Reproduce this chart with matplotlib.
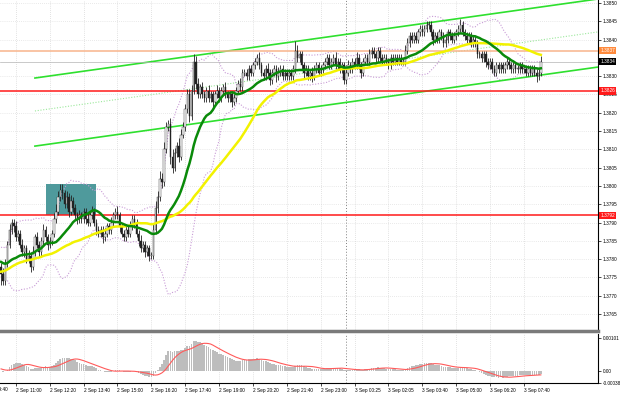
import numpy as np
import pandas as pd
import matplotlib
matplotlib.use("Agg")
import matplotlib.pyplot as plt
from matplotlib.patches import Rectangle

# prices are kept in pips above 1.3700 (85 -> 1.3785)
BASE = 1.37

# bars just left of the visible window, only used to warm up the indicators
warmup_closes = [68, 69, 68, 70, 71, 70, 72, 71, 73, 72, 74, 73, 72, 74, 75, 74, 76, 75, 77, 76,
                 75, 77, 78, 77, 79, 78, 80, 79, 81, 80, 79, 81, 82, 80, 79, 81, 83, 82, 80, 78,
                 79, 81, 80, 78, 77, 79, 78, 76, 77, 78]

# M5 closes, 2 Sep ~10:25 .. 3 Sep ~08:15
closes = [
    76, 74, 79, 84, 88, 90, 89, 86, 87, 84, 82, 83, 80, 81, 78, 82,
    86, 84, 82, 85, 88, 86, 84, 85, 87, 91, 93, 97, 99, 98, 95, 97,
    93, 96, 94, 92, 91, 92, 91, 93, 91, 90, 92, 93, 90, 88, 87, 88,
    86, 87, 89, 88, 90, 92, 93, 92, 89, 87, 86, 88, 87, 89, 91, 90,
    87, 85, 83, 84, 82, 83, 81, 81, 88, 94, 97, 102, 101, 110, 116, 117,
    108, 105, 109, 111, 108, 114, 116, 121, 125, 119, 126, 134, 128, 125, 127, 125,
    124, 126, 124, 125, 123, 125, 126, 124, 126, 127, 125, 124, 125, 123, 124, 126,
    128, 127, 131, 131, 130, 132, 131, 133, 134, 135, 133, 131, 130, 132, 131, 129,
    131, 132, 130, 131, 132, 130, 131, 130, 131, 130, 132, 137, 135, 136, 133, 131,
    132, 130, 131, 130, 132, 133, 131, 132, 133, 134, 135, 133, 134, 135, 133, 134,
    132, 133, 129, 131, 133, 132, 134, 133, 135, 133, 131, 134, 135, 134, 136, 137,
    136, 135, 137, 135, 134, 135, 134, 133, 135, 134, 135, 134, 135, 134, 134, 137,
    139, 141, 140, 141, 140, 142, 143, 142, 143, 144, 144, 142, 140, 141, 140, 142,
    141, 139, 140, 142, 141, 140, 141, 142, 143, 144, 142, 141, 140, 141, 139, 140,
    139, 136, 136, 135, 136, 134, 133, 134, 132, 131, 133, 132, 133, 132, 133, 134,
    133, 132, 133, 132, 132, 133, 132, 132, 131, 132, 131, 132, 131, 130, 131, 134,
]

up_wick = [
    1, 1.5, 1, 1, 1.5, 1, 1, 1.5, 1, 1, 1.5, 1, 1, 1.5, 1, 1.5,
    1, 1.5, 1, 1, 1.5, 1, 1, 1, 1, 1.5, 2, 1.5, 1.5, 1.5, 1, 1.5,
    1, 1.5, 1, 1, 1, 1.5, 1, 1, 1, 1.5, 1, 1.5, 1, 1, 1, 1,
    1, 1.5, 1, 1, 1.5, 1, 1, 1.5, 1, 1, 1, 1.5, 1, 1.5, 1, 1,
    1, 1, 1.5, 1, 1, 1, 1, 1, 1.5, 2, 1.5, 2, 1.5, 2, 1.5, 1,
    1.5, 2, 1.5, 1, 2, 1.5, 1.5, 1.5, 1.5, 1.5, 1.5, 2, 1.5, 1.5, 1, 1.5,
    1, 1, 1.5, 1, 1, 1, 1.5, 1, 1, 1, 1.5, 1, 1, 1, 1, 1,
    1, 1.5, 1, 1, 1, 1, 1, 1, 1, 1, 1.5, 1, 1, 1, 1.5, 1,
    1, 1, 1, 1.5, 1, 1, 1, 1, 1, 1, 1, 2.5, 1.5, 1, 1, 1,
    1, 1, 1, 1.5, 1, 1, 1, 1, 1, 1, 1, 1, 1, 1, 1.5, 1,
    1, 1, 1, 1, 1.5, 1, 1, 1, 1.5, 1, 1, 1, 1, 1, 1.5, 1,
    1, 1, 1, 1, 1, 1, 1, 1, 1, 1, 1, 1, 1, 1, 1, 1.5,
    1.5, 1, 1, 1, 1, 1, 1, 1, 1, 1, 1, 1, 1, 1, 1, 1,
    1, 1, 1, 1, 1, 1, 1, 1, 1, 1.5, 1, 1, 1, 1, 1, 1,
    1, 1, 1, 1, 1, 1, 1, 1, 1, 1, 1, 1, 1, 1, 1, 1,
    1, 1, 1, 1, 1, 1, 1, 1, 1, 1, 1, 1, 1, 1, 1, 1.5,
]

down_wick = [
    3, 1, 1, 1, 1, 1, 1.5, 1, 1, 1, 1, 1.5, 1, 1, 1.5, 1,
    1, 1, 1.5, 1, 1, 1, 1.5, 1, 1, 1, 1, 1, 1, 1.5, 1, 1,
    1.5, 1, 1, 1, 1.5, 1, 1, 1, 1.5, 1, 1, 1, 1, 1.5, 1, 1,
    1.5, 1, 1, 1, 1, 1, 1, 1, 1.5, 1, 1, 1, 1, 1, 1, 1.5,
    1, 1.5, 1, 1, 1.5, 1, 1.5, 1, 1, 1, 1.5, 1, 1.5, 1, 1, 1,
    2, 1.5, 1, 1, 1.5, 1, 1, 1, 1, 1.5, 1, 1, 1.5, 1, 1, 1,
    1, 1, 1, 1, 1.5, 1, 1, 1, 1, 1, 1, 1, 1, 1.5, 1, 1,
    1, 1, 1, 1, 1, 1, 1, 1, 1, 1, 1, 1, 1, 1, 1, 1.5,
    1, 1, 1.5, 1, 1, 1, 1, 1, 1, 1, 1, 1, 1, 1, 1, 1.5,
    1, 1, 1, 1.5, 1, 1, 1, 1, 1, 1, 1, 1, 1, 1, 1, 1,
    1, 1, 1, 1, 1, 1, 1, 1, 1, 1, 1.5, 1, 1, 1, 1, 1,
    1, 1, 1, 1, 1, 1, 1, 1, 1, 1, 1, 1, 1, 1, 1, 1,
    1, 1, 1, 1, 1, 1, 1, 1, 1, 1, 1, 1, 1.5, 1, 1, 1,
    1, 1, 1, 1, 1, 1, 1, 1, 1, 1, 1, 1, 1, 1, 1, 1,
    1, 1, 1, 1, 1, 1.5, 1, 1, 1, 1, 1, 1, 1, 1, 1, 1,
    1, 1, 1, 1, 1, 1, 1, 1, 1, 1, 1, 1, 1, 1.5, 1, 1,
]

# the 09:40 label sits left of the first visible bar
first_label_bar = -9
first_label = "2 Sep 09:40"
tick_bars = [7, 23, 39, 55, 71, 87, 103, 119, 135, 151, 167, 183, 199, 215, 231, 247]
tick_labels = ["2 Sep 11:00", "2 Sep 12:20", "2 Sep 13:40", "2 Sep 15:00",
               "2 Sep 16:20", "2 Sep 17:40", "2 Sep 19:00", "2 Sep 20:20", "2 Sep 21:40",
               "2 Sep 23:00", "3 Sep 00:25", "3 Sep 02:05", "3 Sep 03:40", "3 Sep 05:00",
               "3 Sep 06:20", "3 Sep 07:40"]
price_ticks = [1.3850, 1.3845, 1.3840, 1.3830, 1.3825, 1.3820, 1.3815, 1.3810, 1.3805, 1.3800,
               1.3795, 1.3790, 1.3785, 1.3780, 1.3775, 1.3770, 1.3765]

red_levels = [1.3826, 1.3792]
orange_level = 1.3837
bid = 1.3834
day_break = 163
box_bars = [21, 45]
box_prices = [1.3792, 1.38005]
channel_bars = [16, 282]
channel_upper = [1.38295, 1.38511]
channel_mid = [1.38205, 1.38421]
channel_lower = [1.38109, 1.38325]

# ---------------------------------------------------------------
nw = len(warmup_closes)
allc = pd.Series(warmup_closes + closes, dtype=float) / 10000 + BASE
c = allc.values[nw:]
o = allc.shift(1).values[nw:]
hi = np.maximum(o, c) + np.array(up_wick) / 10000
lo = np.minimum(o, c) - np.array(down_wick) / 10000
x = np.arange(len(closes))

sma20 = allc.rolling(20).mean().values[nw:]
sma50 = allc.rolling(50).mean().values[nw:]
sd20 = allc.rolling(20).std(ddof=0).values[nw:]
bb_up = sma20 + 2 * sd20
bb_dn = sma20 - 2 * sd20
macd = allc.ewm(span=12, adjust=False).mean() - allc.ewm(span=26, adjust=False).mean()
signal = macd.rolling(9).mean().values[nw:]
macd = macd.values[nw:]

fig = plt.figure(figsize=(6.2, 3.96), dpi=100)
ax1 = fig.add_axes([0, 65 / 396, 598 / 620, 331 / 396])
ax2 = fig.add_axes([0, 13 / 396, 598 / 620, 49 / 396])
FS = 3.4
FONT = "Liberation Sans"

for ax in (ax1, ax2):
    ax.set_facecolor("white")
    for s in ("left", "top"):
        ax.spines[s].set_visible(False)
    ax.spines["right"].set_color("black")
    ax.spines["right"].set_linewidth(0.8)
    ax.yaxis.tick_right()
    ax.tick_params(axis="y", length=2, width=0.5, pad=1.5, labelsize=FS)
    ax.tick_params(axis="x", length=2, width=0.5, pad=1.5, labelsize=FS)
    ax.set_xticks(tick_bars)
    ax.set_xlim(-0.5, 282)
    for b in tick_bars:
        ax.axvline(b, color="#c8c8c8", lw=0.5, ls=(0, (1, 2)), zorder=0)
    ax.axvline(day_break, color="#808080", lw=0.7, ls=(0, (1, 2)), zorder=1)

ax1.spines["bottom"].set_color("#7a7a7a")
ax1.spines["bottom"].set_linewidth(2.5)
ax1.set_xticklabels([])
ax1.tick_params(axis="x", length=0)
ax2.spines["bottom"].set_color("black")
ax2.spines["bottom"].set_linewidth(0.8)
ax2.set_xticklabels(tick_labels, fontfamily=FONT)
for lab in ax2.get_xticklabels():
    lab.set_horizontalalignment("left")
ax2.text(first_label_bar, -0.085, first_label, transform=ax2.get_xaxis_transform(),
         fontsize=FS, fontfamily=FONT, ha="left", va="top", clip_on=False)

# ---- main panel
ax1.set_ylim(1.376038, 1.385082)
ax1.set_yticks(price_ticks)
ax1.set_yticklabels([f"{p:.4f}" for p in price_ticks], fontfamily=FONT)
for p in price_ticks:
    ax1.axhline(p, color="#d4d4d4", lw=0.5, ls=(0, (1, 2)), zorder=0)

ax1.add_patch(Rectangle((box_bars[0], box_prices[0]), box_bars[1] - box_bars[0],
                        box_prices[1] - box_prices[0], fc="#4f9a9c", ec="none", zorder=1))

ax1.plot(x, bb_up, color="#c89bd6", lw=0.8, ls=(0, (1, 1.5)), zorder=2)
ax1.plot(x, bb_dn, color="#c89bd6", lw=0.8, ls=(0, (1, 1.5)), zorder=2)

ax1.plot(channel_bars, channel_upper, color="#2ee02e", lw=1.2, zorder=3)
ax1.plot(channel_bars, channel_lower, color="#2ee02e", lw=1.2, zorder=3)
ax1.plot(channel_bars, channel_mid, color="#9be89b", lw=0.8, ls=(0, (1, 1.5)), zorder=3)

for lvl in red_levels:
    ax1.axhline(lvl, color="#ff1a1a", lw=1.1, zorder=3)
ax1.axhline(orange_level, color="#f8b48c", lw=1.1, zorder=3)
ax1.axhline(bid, color="#b4b4b4", lw=0.5, zorder=3)

# candles
ax1.vlines(x, lo, hi, color="#222222", lw=0.6, zorder=4)
body_lo = np.minimum(o, c)
body_h = np.maximum(np.abs(c - o), 0.00002)
up = c >= o
ax1.bar(x[up], body_h[up], bottom=body_lo[up], width=0.7, color="white",
        edgecolor="#222222", lw=0.3, zorder=5)
ax1.bar(x[~up], body_h[~up], bottom=body_lo[~up], width=0.7, color="#222222",
        edgecolor="#222222", lw=0.3, zorder=5)

ax1.plot(x, sma50, color="#f2f200", lw=1.8, zorder=6)
ax1.plot(x, sma20, color="#0a8a0a", lw=1.8, zorder=7)

tr = ax1.get_yaxis_transform()
def price_tag(val, fc, tc):
    ax1.text(1.004, val, f"{val:.4f}", transform=tr, fontsize=FS, fontfamily=FONT,
             color=tc, va="center", ha="left", clip_on=False, zorder=10,
             bbox=dict(boxstyle="square,pad=0.25", fc=fc, ec="none"))

price_tag(orange_level, "#ff8a3c", "white")
price_tag(bid, "black", "white")
for lvl in red_levels:
    price_tag(lvl, "#ff1a1a", "white")

# ---- MACD panel
ax2.set_ylim(-0.00038, 0.00113)
ax2.set_yticks([0.00101, 0.0, -0.00038])
ax2.set_yticklabels(["0.00101", "0.00", "-0.00038"], fontfamily=FONT)
ax2.bar(x, macd, width=0.8, color="#bdbdbd", zorder=2)
ax2.plot(x, signal, color="#ff5a5a", lw=0.8, zorder=3)

fig.savefig("out.png", dpi=100)
